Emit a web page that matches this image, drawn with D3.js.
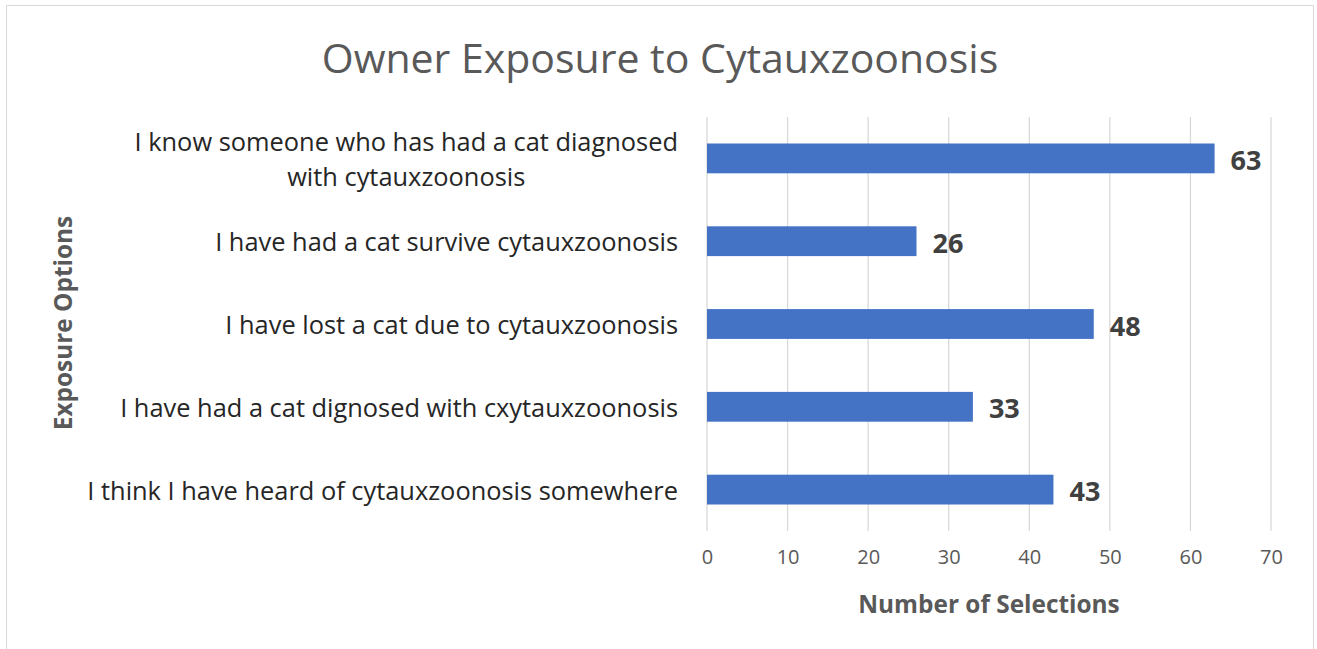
<!DOCTYPE html>
<html>
<head>
<meta charset="utf-8">
<script src="https://cdn.jsdelivr.net/npm/d3@7"></script>
<style>
  body { margin: 0; background: #fff; }
  text { font-family: "Open Sans", "Noto Sans", sans-serif; }
</style>
</head>
<body>
<script>
var categories = [
  ["I know someone who has had a cat diagnosed", "with cytauxzoonosis"],
  ["I have had a cat survive cytauxzoonosis"],
  ["I have lost a cat due to cytauxzoonosis"],
  ["I have had a cat dignosed with cxytauxzoonosis"],
  ["I think I have heard of cytauxzoonosis somewhere"]
];
var values = [63, 26, 48, 33, 43];
var xTicks = [0, 10, 20, 30, 40, 50, 60, 70];

var width = 1317, height = 649;

var svg = d3.select("body").append("svg")
    .attr("width", width).attr("height", height);

// chart border
svg.append("rect")
    .attr("x", 6.5).attr("y", 5.5)
    .attr("width", 1307).attr("height", 660)
    .attr("fill", "#fff").attr("stroke", "#d9d9d9").attr("stroke-width", 1);

var x = d3.scaleLinear().domain([0, 70]).range([707, 1271]);
var y = d3.scaleBand()
    .domain(d3.range(values.length))
    .range([117, 531])
    .paddingInner(0.64).paddingOuter(0.32);

// gridlines
svg.selectAll("line.grid")
    .data(xTicks)
    .enter().append("line")
      .attr("class", "grid")
      .attr("x1", function(d){ return x(d); })
      .attr("x2", function(d){ return x(d); })
      .attr("y1", 117).attr("y2", 531)
      .attr("stroke", "#d9d9d9").attr("stroke-width", 1.3);

// bars
svg.selectAll("rect.bar")
    .data(values)
    .enter().append("rect")
      .attr("class", "bar")
      .attr("x", x(0))
      .attr("y", function(d,i){ return y(i); })
      .attr("width", function(d){ return x(d) - x(0); })
      .attr("height", y.bandwidth())
      .attr("fill", "#4472c4");

// value labels
svg.selectAll("text.val")
    .data(values)
    .enter().append("text")
      .attr("class", "val")
      .attr("x", function(d){ return x(d) + 16; })
      .attr("y", function(d,i){ return y(i) + y.bandwidth()/2 + 1; })
      .attr("dominant-baseline", "central")
      .attr("font-size", 27).attr("font-weight", "bold")
      .attr("fill", "#404040")
      .text(function(d){ return d; });

// category labels - block is right aligned, wrapped lines centred within it
var cat = svg.selectAll("text.cat")
    .data(categories)
    .enter().append("text")
      .attr("class", "cat")
      .attr("text-anchor", "middle")
      .attr("font-size", 25.4)
      .attr("fill", "#262626");
cat.each(function(lines, i){
  var el = d3.select(this);
  var cy = y(i) + y.bandwidth()/2;
  var lh = 35;
  var y0 = cy - (lines.length - 1) * lh / 2;
  var spans = el.selectAll("tspan")
    .data(lines)
    .enter().append("tspan")
      .attr("y", function(d,j){ return y0 + j*lh; })
      .attr("dominant-baseline", "central")
      .text(function(d){ return d; });
  var maxW = d3.max(spans.nodes(), function(n){ return n.getComputedTextLength(); });
  spans.attr("x", 678 - maxW/2);
});

// x tick labels
var xAxis = d3.axisBottom(x).tickValues(xTicks).tickSize(0).tickPadding(0);
var gx = svg.append("g")
    .attr("transform", "translate(0,550)")
    .call(xAxis);
gx.select(".domain").remove();
gx.selectAll("text")
    .attr("font-size", 20)
    .attr("fill", "#595959")
    .style("font-family", "'Open Sans', sans-serif");

// title
svg.append("text")
    .attr("x", 660).attr("y", 57)
    .attr("text-anchor", "middle").attr("dominant-baseline", "central")
    .attr("font-size", 41).attr("fill", "#595959")
    .text("Owner Exposure to Cytauxzoonosis");

// axis titles
svg.append("text")
    .attr("x", 989).attr("y", 603)
    .attr("text-anchor", "middle").attr("dominant-baseline", "central")
    .attr("font-size", 24.4).attr("font-weight", "bold").attr("fill", "#595959")
    .text("Number of Selections");

svg.append("text")
    .attr("transform", "translate(62,323) rotate(-90)")
    .attr("text-anchor", "middle").attr("dominant-baseline", "central")
    .attr("font-size", 24.4).attr("font-weight", "bold").attr("fill", "#595959")
    .text("Exposure Options");
</script>
</body>
</html>
